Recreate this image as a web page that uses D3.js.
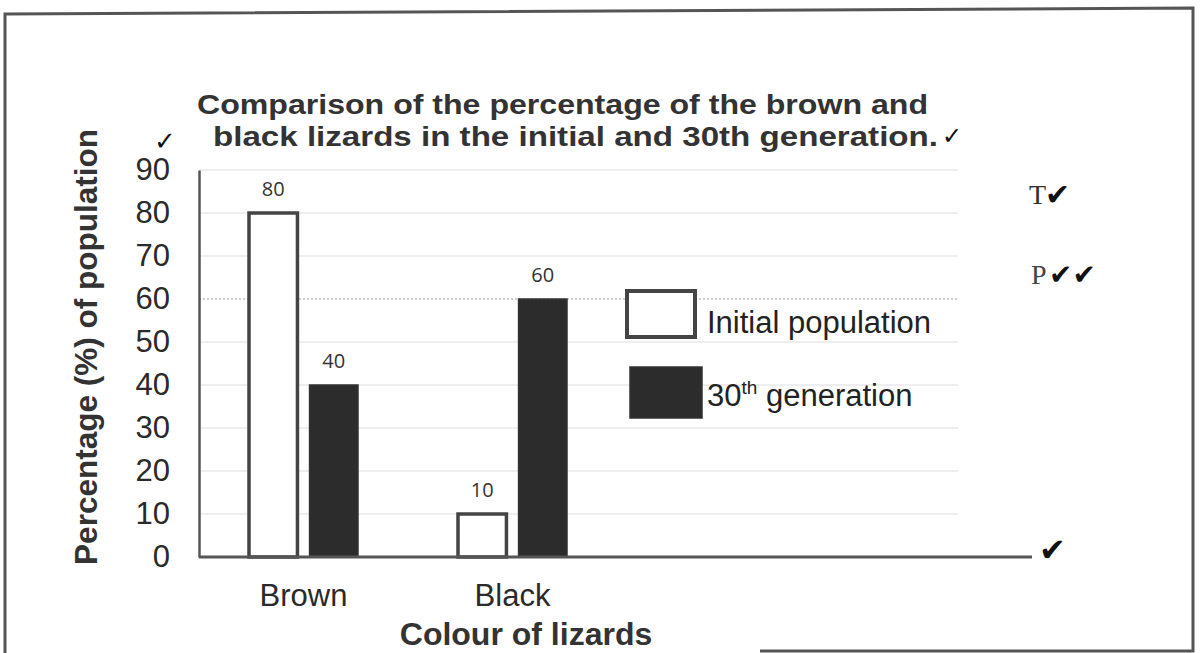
<!DOCTYPE html>
<html lang="en">
<head>
    <meta charset="UTF-8">
    <title>Brown and black lizards</title>
    <script src="https://d3js.org/d3.v7.min.js"></script>
    <style>
        body {
            margin: 0;
            background: #fff;
        }
        svg {
            display: block;
            font-family: "Liberation Sans", Arial, sans-serif;
        }
        .tick-label { font-size: 31px; fill: #2a2a2a; }
        .bold { font-weight: bold; fill: #333; }
        .check { font-family: "DejaVu Sans", sans-serif; fill: #111; }
    </style>
</head>
<body>
    <svg id="chart" width="1200" height="653"></svg>

    <script>
        // Data
        const categories = ["Brown", "Black"];
        const series = ["Initial population", "30th generation"];
        const initialPop = [80, 10];
        const gen30 = [40, 60];
        const yTicks = [0, 10, 20, 30, 40, 50, 60, 70, 80, 90];

        const rows = categories.map((c, i) => ({cat: c, values: [initialPop[i], gen30[i]]}));

        // Layout
        const x0 = 199, plotTop = 170, plotBottom = 557;
        const gridEnd = 958, axisEnd = 1032;

        const svg = d3.select("#chart");

        // Outer frame of the scanned page
        svg.append("path")
            .attr("d", "M5,653 L5,14 L1193,8 L1193,651 L760,651")
            .attr("fill", "none")
            .attr("stroke", "#555")
            .attr("stroke-width", 3);

        // Scales
        const y = d3.scaleLinear().domain([0, 90]).range([plotBottom, plotTop]);
        const x = d3.scaleBand().domain(categories).range([x0, x0 + 418]);
        const xSub = d3.scaleBand().domain(series).range([50, 159]).paddingInner(0.2);

        // Gridlines
        svg.append("g")
            .selectAll("line")
            .data(yTicks.filter(d => d > 0))
            .join("line")
            .attr("x1", x0)
            .attr("x2", gridEnd)
            .attr("y1", d => y(d))
            .attr("y2", d => y(d))
            .attr("stroke", d => d === 60 ? "#999" : "#e8e8e8")
            .attr("stroke-dasharray", d => d === 60 ? "2,2" : null)
            .attr("stroke-width", d => d === 60 ? 1.2 : 1.5);

        // Y axis
        const yAxis = svg.append("g")
            .attr("transform", `translate(${x0},0)`)
            .call(d3.axisLeft(y).tickValues(yTicks).tickSize(0).tickPadding(29));
        yAxis.select(".domain").attr("stroke", "#555").attr("stroke-width", 2.5);
        yAxis.selectAll("text")
            .attr("class", "tick-label")
            .attr("font-family", null)
            .attr("font-size", null);

        // Bars
        const groups = svg.append("g")
            .selectAll("g")
            .data(rows)
            .join("g")
            .attr("transform", d => `translate(${x(d.cat)},0)`);

        groups.selectAll("rect")
            .data(d => d.values.map((v, i) => ({key: series[i], value: v})))
            .join("rect")
            .attr("x", d => xSub(d.key))
            .attr("width", xSub.bandwidth())
            .attr("y", d => y(d.value))
            .attr("height", d => y(0) - y(d.value))
            .attr("fill", d => d.key === series[0] ? "#fff" : "#2c2c2c")
            .attr("stroke", d => d.key === series[0] ? "#444" : "#333")
            .attr("stroke-width", d => d.key === series[0] ? 3.5 : 1.5);

        groups.selectAll("text")
            .data(d => d.values.map((v, i) => ({key: series[i], value: v})))
            .join("text")
            .attr("x", d => xSub(d.key) + xSub.bandwidth() / 2)
            .attr("y", d => y(d.value) - 17)
            .attr("text-anchor", "middle")
            .attr("font-size", 20)
            .attr("font-family", "'Open Sans', sans-serif")
            .attr("fill", "#333")
            .text(d => d.value);

        // X axis line
        svg.append("line")
            .attr("x1", x0)
            .attr("x2", axisEnd)
            .attr("y1", y(0))
            .attr("y2", y(0))
            .attr("stroke", "#555")
            .attr("stroke-width", 3);

        // Category labels
        svg.append("g")
            .selectAll("text")
            .data(categories)
            .join("text")
            .attr("class", "tick-label")
            .attr("x", d => x(d) + x.bandwidth() / 2)
            .attr("y", 606)
            .attr("text-anchor", "middle")
            .text(d => d);

        // Axis titles
        svg.append("text")
            .attr("class", "bold")
            .attr("transform", "translate(97,347) rotate(-90)")
            .attr("text-anchor", "middle")
            .attr("font-size", 31.5)
            .text("Percentage (%) of population");

        svg.append("text")
            .attr("class", "bold")
            .attr("x", 526)
            .attr("y", 645)
            .attr("text-anchor", "middle")
            .attr("font-size", 32)
            .text("Colour of lizards");

        // Title
        const titleLines = [
            {text: "Comparison of the percentage of the brown and", x: 197, y: 114, len: 731},
            {text: "black lizards in the initial and 30th generation.", x: 213, y: 146, len: 725}
        ];
        svg.append("g")
            .selectAll("text")
            .data(titleLines)
            .join("text")
            .attr("class", "bold")
            .attr("x", d => d.x)
            .attr("y", d => d.y)
            .attr("font-size", 28)
            .attr("textLength", d => d.len)
            .attr("lengthAdjust", "spacingAndGlyphs")
            .text(d => d.text);

        // Legend
        const legend = svg.append("g");
        legend.append("rect")
            .attr("x", 627).attr("y", 291).attr("width", 68).attr("height", 46)
            .attr("fill", "#fff").attr("stroke", "#444").attr("stroke-width", 4);
        legend.append("text")
            .attr("x", 707).attr("y", 333)
            .attr("font-size", 31).attr("fill", "#222")
            .text(series[0]);
        legend.append("rect")
            .attr("x", 630).attr("y", 367).attr("width", 72).attr("height", 51)
            .attr("fill", "#2c2c2c").attr("stroke", "#333").attr("stroke-width", 1.5);
        const lt = legend.append("text")
            .attr("x", 707).attr("y", 406)
            .attr("font-size", 31).attr("fill", "#222");
        lt.append("tspan").text("30");
        lt.append("tspan").attr("font-size", 19).attr("dy", -12).text("th");
        lt.append("tspan").attr("dy", 12).text(" generation");

        // Marker's annotations
        const marks = [
            {t: "\u2713", x: 154, y: 150, s: 26},
            {t: "\u2713", x: 942, y: 144, s: 24},
            {t: "\u2714", x: 1045, y: 205, s: 30},
            {t: "\u2714\u2714", x: 1049, y: 284, s: 28},
            {t: "\u2714", x: 1039, y: 561, s: 32}
        ];
        svg.append("g")
            .selectAll("text")
            .data(marks)
            .join("text")
            .attr("class", "check")
            .attr("x", d => d.x)
            .attr("y", d => d.y)
            .attr("font-size", d => d.s)
            .text(d => d.t);

        svg.append("text")
            .attr("x", 1029).attr("y", 204)
            .attr("font-family", "'Liberation Serif', serif")
            .attr("font-size", 28).attr("fill", "#333")
            .text("T");
        svg.append("text")
            .attr("x", 1031).attr("y", 284)
            .attr("font-family", "'Liberation Serif', serif")
            .attr("font-size", 28).attr("fill", "#444")
            .text("P");
    </script>
</body>
</html>
